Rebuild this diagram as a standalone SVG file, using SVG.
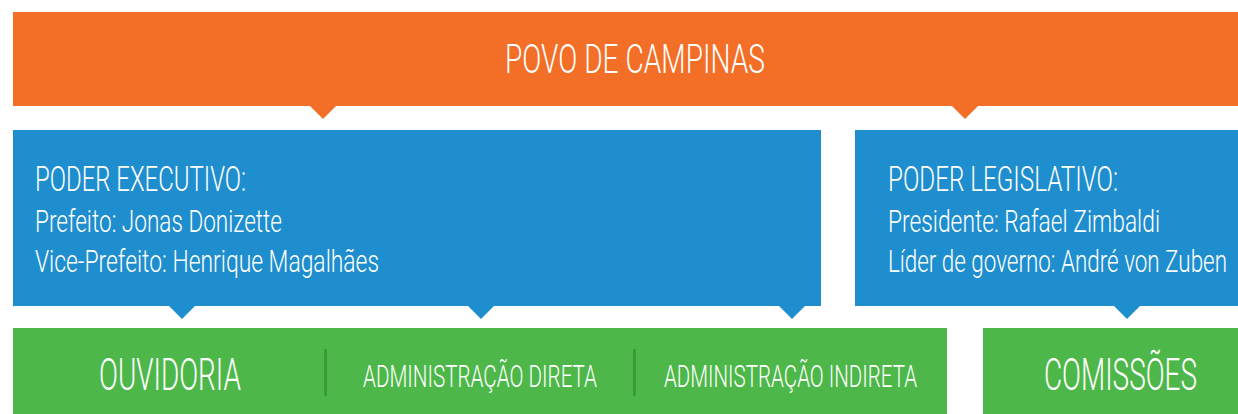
<svg xmlns="http://www.w3.org/2000/svg" width="1238" height="414" viewBox="0 0 1238 414">
<style>
text{font-family:Roboto,"DejaVu Sans",sans-serif;font-weight:300;fill:#fff}
.o{fill:#F36E26}.b{fill:#1F8ECE}.g{fill:#4DB849}.d{fill:#3A9A3C}
.t1{font-size:41.5px}.h{font-size:36px}.s{font-size:30.5px}.gb{font-size:44px}.gs{font-size:32px}
</style>
<g id="povo">
<rect class="o" x="13" y="12" width="1225" height="94"/>
<text class="t1" transform="translate(505 72.7) scale(0.72 1)" textLength="361.1" lengthAdjust="spacingAndGlyphs">POVO DE CAMPINAS</text>
</g>
<g id="executivo">
<rect class="b" x="13" y="130" width="808" height="176"/>
<text class="h" transform="translate(35 190.7) scale(0.72 1)" textLength="293.1" lengthAdjust="spacingAndGlyphs">PODER EXECUTIVO:</text>
<text class="s" transform="translate(35 231.7) scale(0.72 1)" textLength="343.1" lengthAdjust="spacingAndGlyphs">Prefeito: Jonas Donizette</text>
<text class="s" transform="translate(35 271.7) scale(0.72 1)" textLength="477.8" lengthAdjust="spacingAndGlyphs">Vice-Prefeito: Henrique Magalhães</text>
</g>
<g id="legislativo">
<rect class="b" x="855" y="130" width="383" height="176"/>
<text class="h" transform="translate(888 190.7) scale(0.72 1)" textLength="319.4" lengthAdjust="spacingAndGlyphs">PODER LEGISLATIVO:</text>
<text class="s" transform="translate(888 231.7) scale(0.72 1)" textLength="377.8" lengthAdjust="spacingAndGlyphs">Presidente: Rafael Zimbaldi</text>
<text class="s" transform="translate(888 271.7) scale(0.72 1)" textLength="470.8" lengthAdjust="spacingAndGlyphs">Líder de governo: André von Zuben</text>
</g>
<g id="administracao">
<rect class="g" x="13" y="328" width="934" height="86"/>
<rect class="d" x="324" y="349" width="3" height="47"/>
<rect class="d" x="633" y="349" width="3" height="47"/>
</g>
<g id="ouvidoria">
<text class="gb" transform="translate(99 390) scale(0.72 1)" textLength="197.2" lengthAdjust="spacingAndGlyphs">OUVIDORIA</text>
</g>
<g id="adm-direta">
<text class="gs" transform="translate(363 386.7) scale(0.72 1)" textLength="325" lengthAdjust="spacingAndGlyphs">ADMINISTRAÇÃO DIRETA</text>
</g>
<g id="adm-indireta">
<text class="gs" transform="translate(664 386.7) scale(0.72 1)" textLength="351.4" lengthAdjust="spacingAndGlyphs">ADMINISTRAÇÃO INDIRETA</text>
</g>
<g id="comissoes">
<rect class="g" x="983" y="328" width="255" height="86"/>
<text class="gb" transform="translate(1044 390) scale(0.72 1)" textLength="212.5" lengthAdjust="spacingAndGlyphs">COMISSÕES</text>
</g>
<g id="connectors">
<polygon class="o" points="309,105 337,105 323,119"/>
<polygon class="o" points="951,105 979,105 965,119"/>
<polygon class="b" points="168,305 196,305 182,319"/>
<polygon class="b" points="467,305 495,305 481,319"/>
<polygon class="b" points="778,305 806,305 792,319"/>
<polygon class="b" points="1113,305 1141,305 1127,319"/>
</g>
</svg>
